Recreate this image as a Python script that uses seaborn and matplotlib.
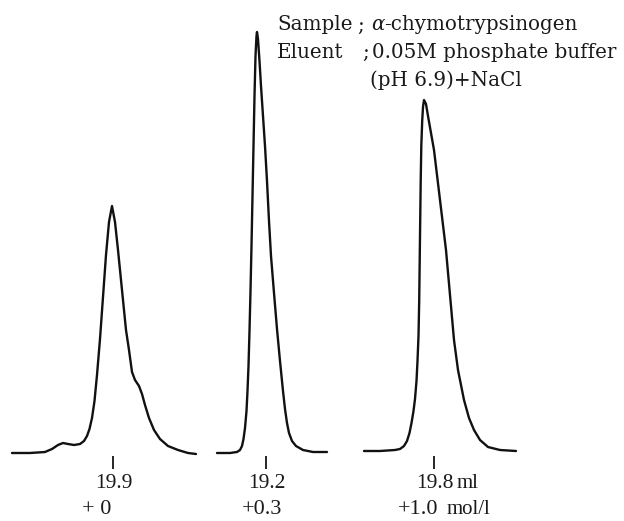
import matplotlib
matplotlib.use("Agg")
import matplotlib.pyplot as plt
import seaborn as sns
import pandas as pd

sns.set_theme(style="white")
plt.rcParams['font.family'] = ['Liberation Serif', 'DejaVu Serif']

# Chromatogram traces (x: chart position, h: height in chart units)
peak1_x = [12, 30, 45, 52, 58, 63, 68, 74, 80, 84, 87, 89.5, 92, 94.5, 97, 100, 103, 106, 109, 112,
           115, 118, 122, 126, 129, 132, 135, 139, 142, 145, 149, 154, 160, 168, 178, 188, 196]
peak1_h = [68, 68, 69, 72, 76, 78, 77, 76, 77, 80, 85, 92, 103, 120, 146, 182, 224, 266, 299, 315,
           299, 271, 231, 191, 171, 149, 141, 135, 127, 116, 103, 91, 82, 75, 71, 68, 67]

peak2_x = [217, 230, 237, 240, 242, 243.5, 245, 246.5, 247.5, 248.5, 249.5, 250.5, 251.5, 252.5,
           253.5, 254.5, 255.5, 256.5, 257, 258, 259.5, 261, 263, 265, 267, 269, 271, 274, 277,
           280, 283, 285, 287, 289, 292, 296, 303, 313, 327]
peak2_h = [68, 68, 69, 71, 75, 82, 93, 110, 130, 155, 190, 230, 275, 325,
           375, 425, 465, 485, 489, 482, 460, 435, 405, 375, 340, 300, 265, 228, 192,
           160, 130, 112, 98, 88, 80, 75, 71, 69, 69]

peak3_x = [364, 380, 395, 400, 404, 407, 409.5, 411.5, 413.5, 415, 416.5, 417.5, 418.5, 419.2,
           419.7, 420.2, 420.7, 421.3, 422.2, 423, 424, 426, 428, 431, 434, 440, 446, 450, 454,
           458, 464, 469, 474, 480, 488, 500, 516]
peak3_h = [70, 70, 71, 72, 75, 80, 88, 98, 110, 122, 140, 160, 185, 220,
           260, 300, 340, 375, 400, 414, 421, 417, 405, 388, 371, 321, 271, 226, 181,
           151, 121, 103, 91, 81, 74, 71, 70]

marker_x = [113, 266, 434]
volume_labels = ["19.9", "19.2", "19.8"]

fig = plt.figure(figsize=(6.24, 5.21), dpi=100)
ax = fig.add_axes([0, 0, 1, 1])
ax.set_xlim(0, 624)
ax.set_ylim(0, 521)
ax.axis("off")

for xs, hs in [(peak1_x, peak1_h), (peak2_x, peak2_h), (peak3_x, peak3_h)]:
    df = pd.DataFrame({"x": xs, "h": hs})
    sns.lineplot(data=df, x="x", y="h", ax=ax, color="#111111", lw=1.7,
                 sort=False, estimator=None)

ax.vlines(marker_x, 52, 65, color="#151515", lw=1.3)

fs = 15.5
tc = "#1a1a1a"
for mx, lab in zip(marker_x, volume_labels):
    ax.text(mx + 1, 38, lab, ha="center", va="center", fontsize=fs, color=tc)
ax.text(457, 38, "ml", ha="left", va="center", fontsize=fs - 0.5, color=tc)

ax.text(97, 11, "+ 0", ha="center", va="center", fontsize=fs + 0.5, color=tc)
ax.text(262, 11, "+0.3", ha="center", va="center", fontsize=fs + 0.5, color=tc)
ax.text(398, 11, "+1.0", ha="left", va="center", fontsize=fs + 0.5, color=tc)
ax.text(447, 11, "mol/l", ha="left", va="center", fontsize=fs - 0.5, color=tc)

# header
hf = dict(fontsize=14.3, color=tc, family=['DejaVu Serif'], va="center")
ax.text(277, 496, "Sample", ha="left", **hf)
ax.text(357, 496, ";", ha="left", **hf)
t_alpha = ax.text(371, 496, "α", ha="left", style="italic", **hf)
ax.annotate("-chymotrypsinogen", xy=(1, 0.5), xycoords=t_alpha, ha="left", **hf)
ax.text(277, 469, "Eluent", ha="left", **hf)
ax.text(362, 469, ";", ha="left", **hf)
ax.text(372, 469, "0.05M phosphate buffer", ha="left", **hf)
ax.text(370, 441, "(pH 6.9)+NaCl", ha="left", **hf)

fig.savefig("out.png", dpi=100, facecolor="white")
